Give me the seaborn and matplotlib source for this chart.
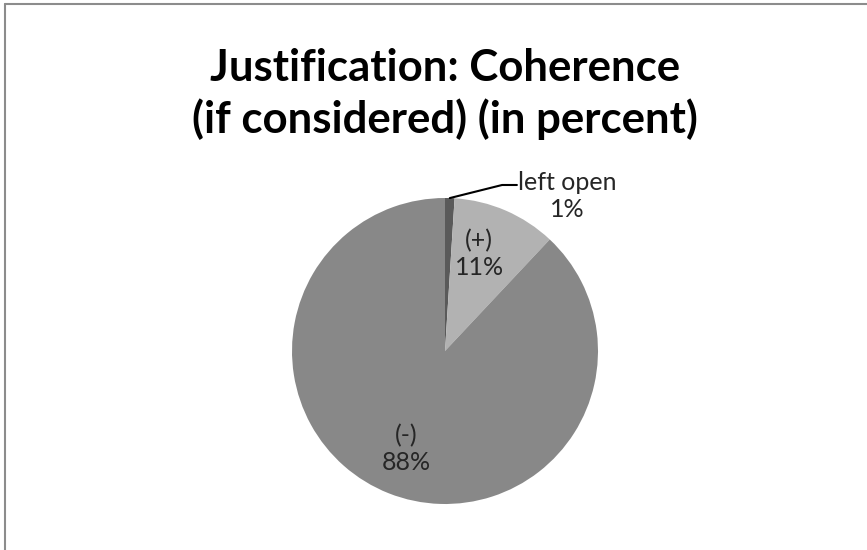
import matplotlib
matplotlib.use("Agg")
import matplotlib.pyplot as plt
import seaborn as sns
import numpy as np
from matplotlib.lines import Line2D

sns.set_theme(style="white")
plt.rcParams['font.family'] = ['Lato', 'DejaVu Sans']

categories = ["left open", "(+)", "(-)"]
values = [1, 11, 88]
colors = ["#5a5a5a", "#b2b2b2", "#888888"]
title = "Justification: Coherence\n(if considered) (in percent)"

W, H = 867, 550
fig = plt.figure(figsize=(W / 100, H / 100), dpi=100)
fig.patch.set_facecolor("white")

# frame (top and left edges)
fig.add_artist(Line2D([5 / W, 1], [1 - 3.5 / H, 1 - 3.5 / H], color="#8c8c8c", lw=1.5))
fig.add_artist(Line2D([5 / W, 5 / W], [0, 1 - 3.5 / H], color="#8c8c8c", lw=1.5))

fig.text(445 / W, 1 - 94 / H, title, ha="center", va="center", fontsize=31.5,
         fontweight="bold", linespacing=1.3, color="black")

cx, cy, r = 445, 351, 153
ax = fig.add_axes([(cx - r) / W, (H - cy - r) / H, 2 * r / W, 2 * r / H])
wedges, _ = ax.pie(values, colors=colors, startangle=90, counterclock=False,
                   radius=1, wedgeprops=dict(linewidth=0))
ax.set_xlim(-1, 1)
ax.set_ylim(-1, 1)
ax.set_aspect("equal")
ax.axis("off")

total = sum(values)
for i, (w, cat, v) in enumerate(zip(wedges, categories, values)):
    ang = np.deg2rad((w.theta1 + w.theta2) / 2)
    lbl = f"{cat}\n{round(100 * v / total)}%"
    if i == 0:
        x0, y0 = np.cos(ang), np.sin(ang)
        ax.plot([x0, 0.373, 0.47], [y0, 1.085, 1.085], color="black", lw=1.5,
                clip_on=False)
        ax.text(0.80, 1.015, lbl, ha="center", va="center", fontsize=18,
                linespacing=1.2, clip_on=False)
    else:
        d = 0.69
        ax.text(d * np.cos(ang) - (0.05 if i == 1 else 0), d * np.sin(ang), lbl,
                ha="center", va="center", fontsize=18, linespacing=1.2)

fig.savefig("out.png", dpi=100, facecolor="white")
